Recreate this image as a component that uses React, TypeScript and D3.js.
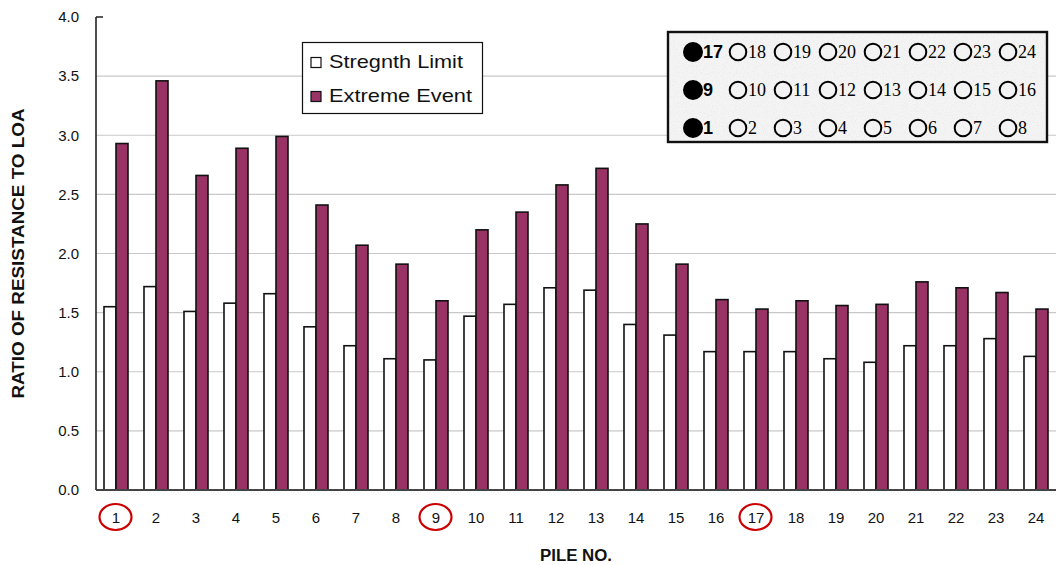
import React from 'react';
import * as d3 from 'd3';

// pile numbers and ratios
const piles = ['1', '2', '3', '4', '5', '6', '7', '8', '9', '10', '11', '12', '13', '14', '15', '16', '17', '18', '19', '20', '21', '22', '23', '24'];
const strengthLimit = [1.55, 1.72, 1.51, 1.58, 1.66, 1.38, 1.22, 1.11, 1.10, 1.47, 1.57, 1.71, 1.69, 1.40, 1.31, 1.17, 1.17, 1.17, 1.11, 1.08, 1.22, 1.22, 1.28, 1.13];
const extremeEvent = [2.93, 3.46, 2.66, 2.89, 2.99, 2.41, 2.07, 1.91, 1.60, 2.20, 2.35, 2.58, 2.72, 2.25, 1.91, 1.61, 1.53, 1.60, 1.56, 1.57, 1.76, 1.71, 1.67, 1.53];
const seriesNames = ['Stregnth Limit', 'Extreme Event'];
const seriesColors = ['#ffffff', '#993366'];
const yTicks = [0, 0.5, 1, 1.5, 2, 2.5, 3, 3.5, 4];
const circledPiles = ['1', '9', '17'];

// pile layout inset
const insetRows = [
  ['17', '18', '19', '20', '21', '22', '23', '24'],
  ['9', '10', '11', '12', '13', '14', '15', '16'],
  ['1', '2', '3', '4', '5', '6', '7', '8'],
];

const W = 1056;
const H = 565;
const left = 96;
const right = 1056;
const top = 17;
const bottom = 490;
const sans = '"Liberation Sans", Arial, sans-serif';
const serif = '"Liberation Serif", "Times New Roman", serif';

export default function App() {
  const x0 = d3.scaleBand<string>().domain(piles).range([left, right]).padding(0);
  const x1 = d3.scaleBand<string>().domain(seriesNames).range([8, 32]).padding(0);
  const y = d3.scaleLinear().domain([0, 4]).range([bottom, top]);

  const series = [strengthLimit, extremeEvent];
  const legendLen = [134, 143];

  const rowY = [52, 90, 128];
  const colX = (c: number) => (c === 0 ? 693 : 738 + (c - 1) * 45);

  return (
    <svg width={W} height={H} style={{ position: 'absolute', left: 0, top: 0, background: '#fff' }}>
      <defs>
        <filter id="speckle" x="0" y="0" width="100%" height="100%">
          <feTurbulence type="fractalNoise" baseFrequency="0.9" numOctaves="2" seed="3" />
          <feColorMatrix type="matrix" values="0 0 0 0 0.5  0 0 0 0 0.5  0 0 0 0 0.5  0 0 0 1.6 -0.8" />
        </filter>
      </defs>

      {/* gridlines */}
      {yTicks.filter(t => t > 0 && t < 4).map(t => (
        <line key={t} x1={left} x2={right} y1={y(t)} y2={y(t)} stroke="#c8c8c8" strokeWidth={1.2} />
      ))}
      <line x1={left} x2={left + 7} y1={y(4)} y2={y(4)} stroke="#222" strokeWidth={1.5} />

      {/* bars */}
      {piles.map((p, i) => (
        <g key={p} transform={`translate(${x0(p)},0)`}>
          {seriesNames.map((s, j) => (
            <rect
              key={s}
              x={x1(s)}
              y={y(series[j][i])}
              width={x1.bandwidth()}
              height={bottom - y(series[j][i])}
              fill={seriesColors[j]}
              stroke="#111"
              strokeWidth={1.6}
            />
          ))}
        </g>
      ))}

      {/* axes */}
      <line x1={left} x2={left} y1={top} y2={bottom} stroke="#222" strokeWidth={1.6} />
      <line x1={left} x2={right} y1={bottom} y2={bottom} stroke="#444" strokeWidth={1.8} />

      {yTicks.map(t => (
        <text key={t} x={79} y={y(t)} dy="0.35em" textAnchor="end" fontFamily={sans} fontSize={15} fill="#111">
          {d3.format('.1f')(t)}
        </text>
      ))}

      {piles.map(p => (
        <text key={p} x={(x0(p) as number) + x0.bandwidth() / 2} y={523} textAnchor="middle" fontFamily={sans} fontSize={15} fill="#111">
          {p}
        </text>
      ))}

      {/* red hand-drawn circles */}
      {circledPiles.map(p => (
        <ellipse key={p} cx={(x0(p) as number) + x0.bandwidth() / 2 - 0.5} cy={517} rx={16} ry={13}
          fill="none" stroke="#cc0000" strokeWidth={2.2} />
      ))}

      {/* axis titles */}
      <text transform={`translate(24,${(top + bottom) / 2}) rotate(-90)`} textAnchor="middle"
        fontFamily={sans} fontSize={16} fontWeight="bold" fill="#111" textLength={290} lengthAdjust="spacingAndGlyphs">
        RATIO OF RESISTANCE TO LOA
      </text>
      <text x={576} y={561} textAnchor="middle" fontFamily={sans} fontSize={16} fontWeight="bold" fill="#111"
        textLength={72} lengthAdjust="spacingAndGlyphs">
        PILE NO.
      </text>

      {/* legend */}
      <g>
        <rect x={302.5} y={42.5} width={180} height={71} fill="#fff" stroke="#111" strokeWidth={1.2} />
        {seriesNames.map((s, j) => (
          <g key={s} transform={`translate(311,${56 + j * 34})`}>
            <rect x={0} y={1.5} width={10} height={10} fill={seriesColors[j]} stroke="#111" strokeWidth={1.2} />
            <text x={18} y={12} fontFamily={sans} fontSize={19} fill="#111"
              textLength={legendLen[j]} lengthAdjust="spacingAndGlyphs">{s}</text>
          </g>
        ))}
      </g>

      {/* inset pile layout */}
      <g>
        <rect x={668} y={32} width={379} height={110} fill="#f4f4f4" />
        <rect x={668} y={32} width={379} height={110} filter="url(#speckle)" opacity={0.35} />
        <rect x={668} y={32} width={379} height={110} fill="none" stroke="#111" strokeWidth={2.4} />
        {insetRows.map((row, r) => (
          <g key={r}>
            {row.map((lab, c) => {
              const cx = colX(c);
              const cy = rowY[r];
              return (
                <g key={lab}>
                  <circle cx={cx} cy={cy} r={c === 0 ? 9 : 8.3} fill={c === 0 ? '#000' : 'none'} stroke="#000" strokeWidth={2} />
                  <text x={cx + (c === 0 ? 10 : 10)} y={cy} dy="0.36em" fontFamily={c === 0 ? sans : serif}
                    fontWeight={c === 0 ? 'bold' : 'normal'} fontSize={c === 0 ? 18 : 18} fill="#000">
                    {lab}
                  </text>
                </g>
              );
            })}
          </g>
        ))}
      </g>
    </svg>
  );
}
